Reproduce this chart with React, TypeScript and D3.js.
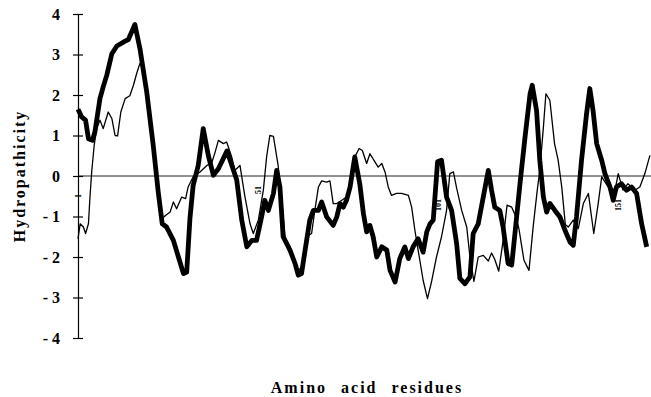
import { useRef, useEffect } from 'react'
import * as d3 from 'd3'

// residue positions and hydropathicity values
const thickResidues = [1.0, 2.0, 3.1, 3.9, 5.0, 5.7, 7.1, 8.0, 9.0, 10.4, 11.8, 14.1, 15.0, 16.8, 18.2, 20.1, 21.9, 23.3, 24.4, 25.6, 27.5, 28.9, 30.3, 31.2, 32.1, 33.0, 34.4, 35.8, 37.2, 38.6, 40.0, 42.4, 45.1, 46.5, 47.9, 49.3, 50.6, 52.0, 52.9, 53.9, 55.3, 56.2, 57.1, 58.0, 59.9, 61.3, 62.2, 63.1, 64.1, 65.4, 66.4, 67.8, 68.7, 70.1, 71.9, 72.9, 73.8, 74.7, 75.6, 76.6, 77.9, 79.3, 80.3, 81.2, 82.1, 83.0, 84.0, 85.4, 86.8, 87.7, 89.1, 90.4, 91.8, 92.8, 94.1, 95.5, 96.9, 97.9, 98.8, 99.7, 100.9, 102.0, 103.4, 104.8, 106.2, 107.1, 108.5, 109.9, 110.8, 112.2, 113.6, 115.0, 115.9, 116.8, 118.2, 119.1, 120.5, 121.5, 122.4, 123.8, 125.2, 126.6, 127.2, 128.4, 129.3, 130.3, 131.2, 132.1, 133.5, 134.9, 136.3, 137.7, 138.6, 139.5, 140.9, 142.3, 143.2, 144.1, 145.1, 146.5, 147.4, 148.8, 149.7, 150.6, 152.0, 153.4, 154.8, 156.2, 157.6, 159.0]
const thickValues = [1.65, 1.46, 1.38, 0.92, 0.88, 1.09, 1.91, 2.2, 2.49, 3.02, 3.21, 3.33, 3.37, 3.74, 3.15, 2.07, 0.76, -0.4, -1.18, -1.26, -1.59, -2.0, -2.41, -2.37, -1.05, -0.23, 0.26, 1.17, 0.51, 0.02, 0.18, 0.62, -0.1, -1.09, -1.75, -1.59, -1.59, -1.01, -0.6, -0.85, -0.43, 0.14, -0.27, -1.5, -1.83, -2.16, -2.45, -2.41, -1.83, -1.09, -0.85, -0.85, -0.64, -1.01, -1.22, -1.01, -0.68, -0.77, -0.6, -0.27, 0.47, -0.2, -0.93, -1.38, -1.22, -1.5, -2.0, -1.75, -1.83, -2.33, -2.62, -2.04, -1.75, -2.04, -1.75, -1.55, -1.88, -1.38, -1.18, -1.09, 0.35, 0.39, -0.52, -0.85, -1.67, -2.53, -2.66, -2.49, -1.42, -1.18, -0.52, 0.14, -0.35, -0.77, -0.85, -1.26, -2.16, -2.2, -1.42, -0.19, 0.96, 2.03, 2.24, 1.62, 0.39, -0.52, -0.89, -0.68, -0.85, -1.01, -1.34, -1.63, -1.71, -1.01, 0.39, 1.54, 2.16, 1.62, 0.8, 0.39, 0.06, -0.27, -0.6, -0.27, -0.19, -0.35, -0.27, -0.43, -1.18, -1.75]

const thinResidues = [1.0, 1.6, 2.5, 3.1, 3.9, 4.3, 4.8, 5.5, 6.2, 7.1, 8.0, 9.4, 10.4, 11.3, 12.0, 12.9, 14.1, 15.4, 16.4, 17.3, 18.2, 19.6, 20.4, 22.4, 23.3, 24.4, 25.4, 26.6, 27.5, 28.4, 29.8, 30.9, 31.6, 33.0, 34.9, 36.8, 38.1, 39.1, 40.0, 41.4, 42.3, 43.7, 44.6, 46.0, 47.4, 48.8, 49.7, 51.1, 52.5, 53.4, 54.3, 55.3, 56.6, 57.6, 58.5, 59.9, 61.3, 62.2, 63.3, 64.5, 65.9, 66.8, 67.8, 68.7, 70.1, 71.0, 71.9, 72.9, 74.3, 75.6, 77.0, 77.9, 79.1, 80.0, 81.2, 82.1, 83.5, 84.4, 85.4, 86.3, 87.2, 88.1, 89.5, 90.9, 92.8, 93.7, 94.6, 95.5, 96.9, 98.1, 99.3, 100.6, 102.0, 103.4, 104.3, 105.3, 106.2, 107.6, 109.0, 109.9, 111.0, 112.2, 113.6, 115.0, 115.9, 116.8, 117.9, 119.1, 120.2, 121.5, 122.7, 123.5, 124.9, 126.3, 127.5, 128.6, 129.3, 130.3, 131.0, 132.1, 133.4, 134.4, 135.4, 136.4, 137.2, 138.6, 140.0, 141.4, 142.8, 144.3, 145.5, 146.5, 148.3, 150.2, 151.1, 152.4, 153.8, 155.7, 157.1, 158.5, 159.9]
const thinValues = [-1.55, -1.18, -1.26, -1.42, -1.18, -0.56, 0.1, 0.76, 1.17, 1.38, 1.17, 1.58, 1.42, 1.0, 0.99, 1.58, 1.91, 1.98, 2.24, 2.53, 2.78, 2.57, 1.75, 0.5, -0.3, -1.05, -0.97, -0.89, -0.64, -0.81, -0.52, -0.56, -0.27, -0.02, 0.1, 0.26, 0.31, 0.59, 0.88, 0.8, 0.84, 0.47, 0.14, 0.26, -0.52, -1.18, -1.42, -1.09, -0.35, 0.47, 1.0, 0.98, 0.26, -0.6, -1.5, -1.75, -2.16, -2.33, -2.25, -1.5, -1.42, -0.85, -0.27, -0.12, -0.15, -0.12, -0.68, -0.68, -0.6, -0.52, -0.02, 0.47, 0.68, 0.63, 0.31, 0.55, 0.35, 0.22, 0.31, 0.1, -0.27, -0.48, -0.43, -0.43, -0.48, -0.77, -1.34, -1.83, -2.58, -3.03, -2.58, -2.0, -1.5, -0.85, 0.06, 0.1, -0.3, -0.85, -1.26, -2.0, -2.6, -2.0, -1.96, -2.1, -1.9, -2.06, -2.35, -1.6, -0.72, -0.77, -1.01, -1.3, -2.08, -2.33, -1.22, -0.35, 0.14, 1.2, 2.03, 1.87, 0.8, 0.39, -0.27, -1.2, -1.26, -1.09, -1.3, -0.68, -0.43, -1.42, -0.7, -0.02, -0.27, -0.35, 0.06, -0.35, -0.19, -0.35, -0.27, 0.06, 0.51]

const yTicks = [4, 3, 2, 1, 0, -1, -2, -3, -4]
const residueMarks = [1, 51, 101, 151]

function App() {
  const ref = useRef<SVGSVGElement>(null)

  useEffect(() => {
    const svg = d3.select(ref.current)
    svg.selectAll('*').remove()

    const x = d3.scaleLinear().domain([1, 160.2]).range([78, 651])
    const y = d3.scaleLinear().domain([-4, 4]).range([338, 14])

    // zero line
    svg.append('line')
      .attr('x1', x(1)).attr('x2', x(160.2))
      .attr('y1', y(0)).attr('y2', y(0))
      .attr('stroke', '#222').attr('stroke-width', 1)

    // y axis, ticks crossing the line
    const axis = svg.append('g')
      .attr('transform', `translate(${x(1)},0)`)
      .call(d3.axisLeft(y).tickValues(yTicks).tickSizeInner(5).tickSizeOuter(0).tickPadding(13)
        .tickFormat((d: any) => d < 0 ? `- ${-d}` : `${d}`))
    axis.select('.domain').attr('stroke', '#000').attr('stroke-width', 1.2)
    axis.selectAll('.tick line').attr('x1', -5).attr('x2', 5).attr('stroke', '#000').attr('stroke-width', 1.2)
    axis.selectAll('.tick text')
      .attr('font-family', '"Liberation Serif", "DejaVu Serif", serif')
      .attr('font-weight', 'bold')
      .attr('font-size', 16)
      .attr('fill', '#000')

    // little residue numbers along the zero line
    svg.selectAll('text.mark')
      .data(residueMarks)
      .enter()
      .append('text')
      .attr('class', 'mark')
      .attr('transform', d => `translate(${x(d) + 3},${d === 1 ? 196 : d === 51 ? 190 : 205}) rotate(-90)`)
      .attr('text-anchor', 'middle')
      .attr('font-family', '"Liberation Serif", serif')
      .attr('font-weight', 'bold')
      .attr('font-size', 8)
      .text(d => d)

    const thick = thickResidues.map((r, i) => [r, thickValues[i]] as [number, number])
    const thin = thinResidues.map((r, i) => [r, thinValues[i]] as [number, number])
    const line = d3.line<[number, number]>().x(d => x(d[0])).y(d => y(d[1]))

    svg.append('path')
      .datum(thin)
      .attr('d', line)
      .attr('fill', 'none')
      .attr('stroke', '#000')
      .attr('stroke-width', 1.3)
      .attr('stroke-linejoin', 'round')

    svg.append('path')
      .datum(thick)
      .attr('d', line)
      .attr('fill', 'none')
      .attr('stroke', '#000')
      .attr('stroke-width', 4.8)
      .attr('stroke-linejoin', 'round')

    svg.append('text')
      .attr('transform', 'translate(25,176) rotate(-90)')
      .attr('text-anchor', 'middle')
      .attr('font-family', '"Liberation Serif", serif')
      .attr('font-weight', 'bold')
      .attr('font-size', 16)
      .attr('letter-spacing', 2)
      .text('Hydropathicity')

    svg.append('text')
      .attr('x', 367)
      .attr('y', 393)
      .attr('text-anchor', 'middle')
      .attr('font-family', '"Liberation Serif", serif')
      .attr('font-weight', 'bold')
      .attr('font-size', 16)
      .attr('letter-spacing', 2)
      .attr('word-spacing', 8)
      .text('Amino acid residues')
  }, [])

  return (
    <svg ref={ref} width={651} height={397}
      style={{ position: 'absolute', left: 0, top: 0, background: '#fff' }}>
    </svg>
  )
}

export default App
